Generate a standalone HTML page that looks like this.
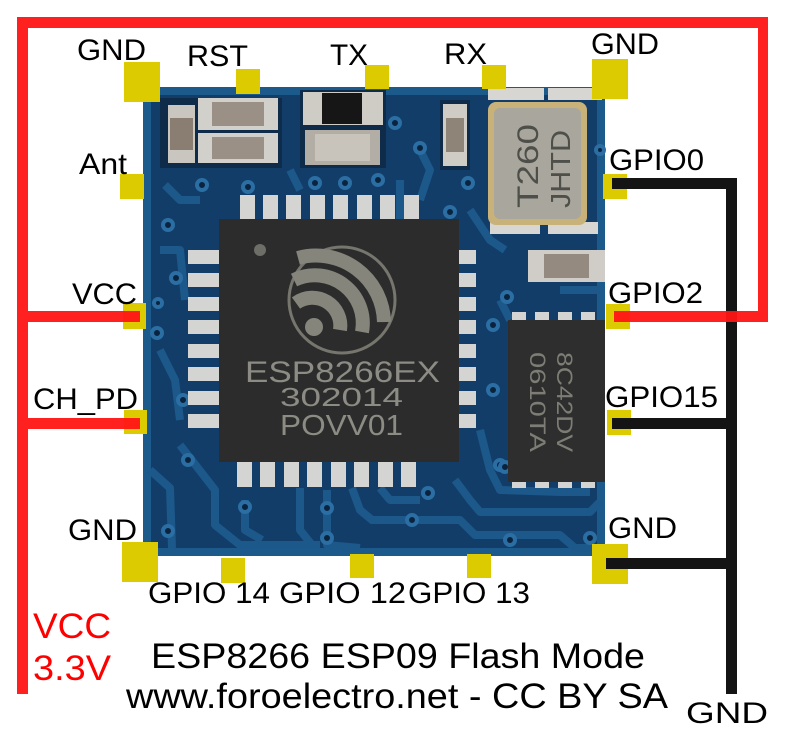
<!DOCTYPE html>
<html><head><meta charset="utf-8"><style>
html,body{margin:0;padding:0;background:#fff;}
svg{display:block;}
text{font-family:"Liberation Sans",Arial,sans-serif;}
</style></head><body>
<svg width="786" height="732" viewBox="0 0 786 732" xmlns="http://www.w3.org/2000/svg">
<rect width="786" height="732" fill="#fff"/>

<!-- board -->
<rect x="143" y="87" width="462" height="469" fill="#123d68"/>
<rect x="147" y="91" width="454" height="461" fill="none" stroke="#1d5a8c" stroke-width="8"/>
<g fill="none" stroke="#1c5889" stroke-width="8" stroke-linejoin="round">
  <path d="M150 470 L170 488 L172 548"/>
  <path d="M180 445 L215 490 L215 525 L240 545 L320 545"/>
  <path d="M245 500 L245 530 L262 540"/>
  <path d="M300 488 L300 530 L312 545"/>
  <path d="M327 490 L327 545 L360 548"/>
  <path d="M352 488 L360 510 L372 520 L460 520 L475 535 L560 535 L575 548 L600 548"/>
  <path d="M380 488 L390 500 L420 500"/>
  <path d="M455 480 L470 500 L480 512 L590 512 L600 502"/>
  <path d="M480 430 L490 470 L500 490 L560 492 L590 492"/>
  <path d="M470 210 L490 240 L505 250"/>
  <path d="M400 180 L400 230"/>
  <path d="M420 150 L430 170 L420 200"/>
  <path d="M160 250 L180 250 L185 300"/>
  <path d="M160 350 L175 380 L180 420"/>
  <path d="M560 290 L600 290"/>
  <path d="M500 300 L510 320"/>
  <path d="M165 185 L180 200 L200 200"/>
  <path d="M290 170 L300 190"/>
</g>

<!-- vias -->
<g fill="#0a2440" stroke="#2b6ea3" stroke-width="4">
  <circle cx="188" cy="460" r="5"/><circle cx="245" cy="507" r="5"/>
  <circle cx="327" cy="508" r="5"/><circle cx="327" cy="538" r="5"/>
  <circle cx="428" cy="493" r="5"/><circle cx="412" cy="520" r="5"/>
  <circle cx="510" cy="540" r="5"/><circle cx="590" cy="538" r="5"/>
  <circle cx="168" cy="531" r="5"/><circle cx="500" cy="465" r="5"/>
  <circle cx="202" cy="185" r="5"/><circle cx="248" cy="187" r="5"/>
  <circle cx="315" cy="183" r="5"/><circle cx="345" cy="183" r="5"/>
  <circle cx="378" cy="180" r="5"/><circle cx="395" cy="123" r="5"/>
  <circle cx="420" cy="148" r="5"/><circle cx="468" cy="183" r="5"/>
  <circle cx="168" cy="225" r="5"/><circle cx="450" cy="212" r="5"/>
  <circle cx="176" cy="278" r="5"/><circle cx="507" cy="297" r="5"/>
  <circle cx="157" cy="333" r="5"/><circle cx="183" cy="400" r="5"/>
  <circle cx="493" cy="325" r="5"/><circle cx="493" cy="390" r="5"/>
  <circle cx="505" cy="467" r="5"/><circle cx="158" cy="303" r="4"/>
  <circle cx="600" cy="150" r="4"/><circle cx="590" cy="265" r="4"/>
</g>

<!-- top-left components -->
<g>
  <rect x="160" y="98" width="122" height="70" fill="#0e2c4a"/>
  <rect x="168" y="105" width="27" height="58" fill="#c9c6c0"/>
  <rect x="170" y="118" width="23" height="32" fill="#8a7e72"/>
  <rect x="198" y="98" width="80" height="32" fill="#d2d0cb"/>
  <rect x="212" y="102" width="52" height="24" fill="#9b9085"/>
  <rect x="198" y="133" width="80" height="30" fill="#d2d0cb"/>
  <rect x="212" y="137" width="52" height="22" fill="#9b9085"/>
  <rect x="300" y="90" width="86" height="78" fill="#0e2c4a"/>
  <rect x="303" y="92" width="80" height="33" fill="#cfccc6"/>
  <rect x="322" y="93" width="40" height="31" fill="#161616"/>
  <rect x="305" y="130" width="75" height="35" fill="#b3aea5"/>
  <rect x="315" y="134" width="55" height="27" fill="#c9c4bb"/>
  <rect x="440" y="100" width="30" height="70" fill="#0e2c4a"/>
  <rect x="443" y="104" width="24" height="62" fill="#cfccc6"/>
  <rect x="446" y="118" width="18" height="34" fill="#8f8478"/>
</g>

<!-- crystal -->
<rect x="488" y="88" width="56" height="12" fill="#d8d6d2"/>
<rect x="548" y="88" width="54" height="12" fill="#d8d6d2"/>
<rect x="490" y="222" width="50" height="12" fill="#d8d6d2"/>
<rect x="548" y="222" width="50" height="12" fill="#d8d6d2"/>
<rect x="488" y="102" width="99" height="123" rx="8" fill="#c8b27a"/>
<rect x="494" y="108" width="87" height="111" rx="6" fill="#a9a69e"/>
<text transform="translate(538,208) rotate(-90)" font-size="30" fill="#4f4f4a" textLength="84" lengthAdjust="spacingAndGlyphs">T260</text>
<text transform="translate(570,208) rotate(-90)" font-size="28" fill="#4f4f4a" textLength="78" lengthAdjust="spacingAndGlyphs">JHTD</text>

<!-- small cap right -->
<rect x="528" y="250" width="77" height="32" fill="#d0cdc8"/>
<rect x="544" y="254" width="45" height="24" fill="#958a80"/>

<!-- main chip pins -->
<g fill="#d4d4d2">
  <rect x="240" y="195" width="15" height="25"/><rect x="263" y="195" width="15" height="25"/>
  <rect x="286" y="195" width="15" height="25"/><rect x="310" y="195" width="15" height="25"/>
  <rect x="333" y="195" width="15" height="25"/><rect x="357" y="195" width="15" height="25"/>
  <rect x="380" y="195" width="15" height="25"/><rect x="404" y="195" width="15" height="25"/>
  <rect x="237" y="462" width="15" height="25"/><rect x="260" y="462" width="15" height="25"/>
  <rect x="284" y="462" width="15" height="25"/><rect x="307" y="462" width="15" height="25"/>
  <rect x="331" y="462" width="15" height="25"/><rect x="354" y="462" width="15" height="25"/>
  <rect x="378" y="462" width="15" height="25"/><rect x="401" y="462" width="15" height="25"/>
  <rect x="188" y="250" width="31" height="14"/><rect x="188" y="273" width="31" height="14"/>
  <rect x="188" y="297" width="31" height="14"/><rect x="188" y="320" width="31" height="14"/>
  <rect x="188" y="344" width="31" height="14"/><rect x="188" y="367" width="31" height="14"/>
  <rect x="188" y="391" width="31" height="14"/><rect x="188" y="414" width="31" height="14"/>
  <rect x="459" y="250" width="17" height="14"/><rect x="459" y="273" width="17" height="14"/>
  <rect x="459" y="297" width="17" height="14"/><rect x="459" y="320" width="17" height="14"/>
  <rect x="459" y="344" width="17" height="14"/><rect x="459" y="367" width="17" height="14"/>
  <rect x="459" y="391" width="17" height="14"/><rect x="459" y="414" width="17" height="14"/>
</g>
<!-- main chip body -->
<rect x="219" y="219" width="240" height="243" fill="#2c2c2c"/>
<circle cx="260" cy="250" r="6" fill="#6e6e68"/>
<circle cx="342" cy="300" r="53" fill="none" stroke="#76766e" stroke-width="3"/>
<g fill="none" stroke="#85857c" stroke-width="14">
  <path d="M296 303 A28 28 0 0 1 340 330"/>
  <path d="M294 280 A48 48 0 0 1 362 332"/>
  <path d="M298 258 A68 68 0 0 1 384 322"/>
</g>
<circle cx="314" cy="327" r="9" fill="#85857c"/>
<text x="245" y="382" font-size="30" fill="#8c8c84" textLength="195" lengthAdjust="spacingAndGlyphs">ESP8266EX</text>
<text x="280" y="406" font-size="26" fill="#8c8c84" textLength="123" lengthAdjust="spacingAndGlyphs">302014</text>
<text x="280" y="435" font-size="29" fill="#8c8c84" textLength="123" lengthAdjust="spacingAndGlyphs">POVV01</text>

<!-- flash chip -->
<g fill="#d4d4d2">
  <rect x="512" y="312" width="14" height="10"/><rect x="535" y="312" width="14" height="10"/>
  <rect x="558" y="312" width="14" height="10"/><rect x="581" y="312" width="14" height="10"/>
  <rect x="512" y="478" width="14" height="10"/><rect x="535" y="478" width="14" height="10"/>
  <rect x="558" y="478" width="14" height="10"/><rect x="581" y="478" width="14" height="10"/>
</g>
<rect x="508" y="320" width="97" height="162" fill="#2e2e2e"/>
<text transform="translate(530,352) rotate(90)" font-size="22" fill="#7d7d75" textLength="100" lengthAdjust="spacingAndGlyphs">0610TA</text>
<text transform="translate(557,352) rotate(90)" font-size="22" fill="#7d7d75" textLength="100" lengthAdjust="spacingAndGlyphs">8C42DV</text>

<!-- pads -->
<g fill="#dccb00">
  <rect x="124" y="62" width="36" height="40"/>
  <rect x="236" y="69" width="24" height="25"/>
  <rect x="365" y="65" width="24" height="24"/>
  <rect x="482" y="65" width="24" height="24"/>
  <rect x="592" y="59" width="36" height="40"/>
  <rect x="120" y="174" width="24" height="25"/>
  <rect x="603" y="174" width="24" height="25"/>
  <rect x="123" y="303" width="23" height="26"/>
  <rect x="606" y="304" width="24" height="25"/>
  <rect x="124" y="410" width="23" height="24"/>
  <rect x="607" y="410" width="24" height="25"/>
  <rect x="122" y="542" width="36" height="40"/>
  <rect x="592" y="544" width="36" height="40"/>
  <rect x="221" y="558" width="24" height="25"/>
  <rect x="350" y="554" width="24" height="24"/>
  <rect x="467" y="554" width="24" height="24"/>
</g>

<!-- black wires -->
<g fill="#141414">
  <rect x="726" y="178" width="11" height="516"/>
  <rect x="612" y="178" width="125" height="11"/>
  <rect x="612" y="418" width="125" height="11"/>
  <rect x="606" y="558" width="131" height="11"/>
</g>
<!-- red wires -->
<g fill="#ff1414" fill-opacity="0.95">
  <rect x="17" y="17" width="751" height="11"/>
  <rect x="17" y="28" width="11" height="666"/>
  <rect x="758" y="28" width="10" height="294"/>
  <rect x="614" y="311" width="144" height="11"/>
  <rect x="28" y="311" width="112" height="11"/>
  <rect x="28" y="418" width="112" height="11"/>
</g>

<!-- labels -->
<g font-size="30" fill="#000">
  <text x="77" y="60" textLength="69" lengthAdjust="spacingAndGlyphs">GND</text>
  <text x="187" y="66" textLength="61" lengthAdjust="spacingAndGlyphs">RST</text>
  <text x="330" y="65" textLength="38" lengthAdjust="spacingAndGlyphs">TX</text>
  <text x="444" y="64" textLength="43" lengthAdjust="spacingAndGlyphs">RX</text>
  <text x="591" y="54" textLength="68" lengthAdjust="spacingAndGlyphs">GND</text>
  <text x="79" y="174" textLength="48" lengthAdjust="spacingAndGlyphs">Ant</text>
  <text x="609" y="170" textLength="95" lengthAdjust="spacingAndGlyphs">GPIO0</text>
  <text x="72" y="304" textLength="65" lengthAdjust="spacingAndGlyphs">VCC</text>
  <text x="608" y="303" textLength="95" lengthAdjust="spacingAndGlyphs">GPIO2</text>
  <text x="33" y="409" textLength="105" lengthAdjust="spacingAndGlyphs">CH_PD</text>
  <text x="605" y="407" textLength="113" lengthAdjust="spacingAndGlyphs">GPIO15</text>
  <text x="68" y="540" textLength="69" lengthAdjust="spacingAndGlyphs">GND</text>
  <text x="608" y="538" textLength="69" lengthAdjust="spacingAndGlyphs">GND</text>
  <text x="148" y="603" textLength="122" lengthAdjust="spacingAndGlyphs">GPIO 14</text>
  <text x="279" y="603" textLength="127" lengthAdjust="spacingAndGlyphs">GPIO 12</text>
  <text x="408" y="603" textLength="122" lengthAdjust="spacingAndGlyphs">GPIO 13</text>
  <text x="686" y="723" textLength="82" lengthAdjust="spacingAndGlyphs">GND</text>
</g>
<g font-size="35" fill="#ff0000">
  <text x="33" y="638" textLength="78" lengthAdjust="spacingAndGlyphs">VCC</text>
  <text x="33" y="680" textLength="78" lengthAdjust="spacingAndGlyphs">3.3V</text>
</g>
<g font-size="35" fill="#000">
  <text x="151" y="668" textLength="494" lengthAdjust="spacingAndGlyphs">ESP8266 ESP09 Flash Mode</text>
  <text x="126" y="708" textLength="542" lengthAdjust="spacingAndGlyphs">www.foroelectro.net - CC BY SA</text>
</g>
</svg>
</body></html>
